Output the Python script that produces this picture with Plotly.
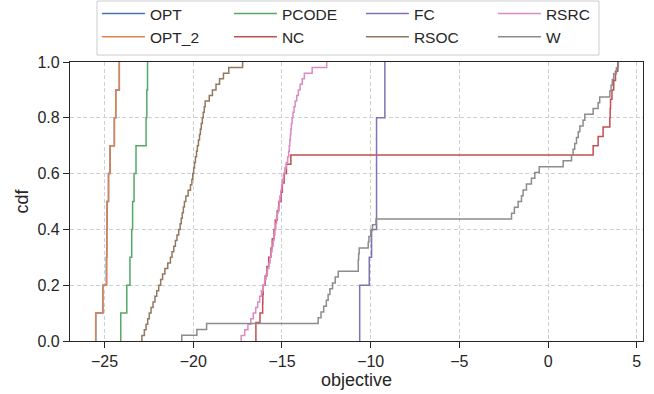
import plotly.graph_objects as go

# ---- data: sample values for each method (ECDF computed below) ----
names = ["OPT", "OPT_2", "PCODE", "NC", "FC", "RSOC", "RSRC", "W"]
colors = ["#4C72B0", "#DD8452", "#55A868", "#C44E52", "#8172B3", "#937860", "#DA8BC3", "#8C8C8C"]
legend_rank = [1, 5, 2, 6, 3, 7, 4, 8]

opt = [-25.5, -25.1, -24.9, -24.88, -24.86, -24.78, -24.69, -24.45, -24.37, -24.17]
opt_2 = [-25.5, -25.1, -24.88, -24.87, -24.86, -24.78, -24.69, -24.45, -24.37, -24.17]
pcode = [-24.09, -23.75, -23.57, -23.47, -23.42, -23.34, -23.23, -22.66, -22.62, -22.58]
nc = [-16.47, -16.47, -16.24, -16.09, -16.08, -16.06, -15.95, -15.85, -15.75, -15.62,
      -15.55, -15.45, -15.38, -15.27, -15.18, -15.05, -14.98, -14.88, -14.75, -14.5,
      2.54, 2.82, 3.10, 3.48, 3.5, 3.52, 3.6, 3.7, 3.8, 3.93]
fc = [-10.62, -10.62, -10.08, -9.95, -9.67, -9.67, -9.67, -9.67, -9.2, -9.2]
rsoc = [-22.9, -22.76, -22.66, -22.57, -22.48, -22.38, -22.27, -22.16, -22.06, -21.95,
        -21.84, -21.73, -21.6, -21.44, -21.29, -21.2, -21.1, -21.01, -20.92, -20.82,
        -20.74, -20.68, -20.62, -20.56, -20.5, -20.42, -20.29, -20.16, -20.08, -20.03,
        -19.98, -19.93, -19.88, -19.82, -19.77, -19.71, -19.65, -19.6, -19.55, -19.49,
        -19.44, -19.38, -19.33, -19.1, -18.92, -18.72, -18.52, -18.3, -18.0, -17.22]
rsrc = [-17.3, -17.1, -16.92, -16.76, -16.62, -16.48, -16.37, -16.26, -16.16, -16.06,
        -15.98, -15.9, -15.82, -15.74, -15.67, -15.61, -15.56, -15.5, -15.45, -15.4,
        -15.35, -15.31, -15.26, -15.21, -15.16, -15.12, -15.07, -15.02, -14.97, -14.92,
        -14.84, -14.76, -14.68, -14.62, -14.59, -14.56, -14.53, -14.5, -14.47, -14.43,
        -14.38, -14.32, -14.26, -14.17, -14.08, -13.98, -13.86, -13.74, -13.3, -12.48]
w = [-20.65, -19.8, -19.25,
     -12.96, -12.8, -12.65, -12.5, -12.4, -12.3, -12.15, -12.0, -11.83,
     -10.7, -10.7, -10.68, -10.65, -10.14, -10.1, -10.0, -9.9, -9.7,
     -2.06, -1.9, -1.69, -1.5, -1.41, -1.22, -0.94, -0.75, -0.5,
     0.85,
     1.32, 1.41, 1.5, 1.6, 1.7, 1.79, 1.97, 2.07,
     2.54, 2.82, 2.91,
     3.48, 3.55, 3.62, 3.7, 3.85, 3.96]

samples = [opt, opt_2, pcode, nc, fc, rsoc, rsrc, w]

x_ticks = [-25, -20, -15, -10, -5, 0, 5]
y_ticks = [0.0, 0.2, 0.4, 0.6, 0.8, 1.0]

FONT = "Liberation Sans, Arial, sans-serif"
TXT = "#262626"

fig = go.Figure()
for name, col, rank, s in zip(names, colors, legend_rank, samples):
    xs = sorted(s)
    n = len(xs)
    px = [xs[0]] + xs
    py = [0.0] + [(i + 1) / n for i in range(n)]
    fig.add_trace(go.Scatter(
        x=px, y=py, mode="lines", name=name, legendrank=rank,
        line=dict(color=col, width=1.5, shape="hv"),
    ))

axis_common = dict(
    showline=True, linecolor=TXT, linewidth=1.25, mirror=True,
    ticks="outside", ticklen=6, tickwidth=1.25, tickcolor=TXT,
    showgrid=True, gridcolor="#cfcfcf", gridwidth=0.8, griddash="4px,2.5px",
    zeroline=False,
    tickfont=dict(family=FONT, size=16, color=TXT),
)

fig.update_xaxes(range=[-26.95, 5.35], tickvals=x_ticks,
                 title=dict(text="objective", standoff=1,
                            font=dict(family=FONT, size=18, color=TXT)),
                 **axis_common)
fig.update_yaxes(range=[0, 1], tickvals=y_ticks, tickformat=".1f",
                 title=dict(text="cdf", standoff=4,
                            font=dict(family=FONT, size=18, color=TXT)),
                 **axis_common)

# legend frame (matplotlib-style box)
fig.add_shape(type="rect", xref="paper", yref="paper",
              x0=0.0471, x1=0.9232, y0=1.025, y1=1.2186,
              line=dict(color="#cccccc", width=1), fillcolor="white", layer="below")

fig.update_layout(
    width=654, height=394,
    margin=dict(l=70, r=11, t=62, b=53, autoexpand=False),
    plot_bgcolor="white", paper_bgcolor="white",
    font=dict(family=FONT, color=TXT),
    legend=dict(
        orientation="h", x=0.047, xanchor="left", y=1.233, yanchor="top",
        entrywidth=74, entrywidthmode="pixels", itemwidth=43,
        borderwidth=0, bgcolor="rgba(0,0,0,0)",
        font=dict(family=FONT, size=15.5, color=TXT),
        traceorder="normal",
    ),
)

fig.write_html("out.html")
